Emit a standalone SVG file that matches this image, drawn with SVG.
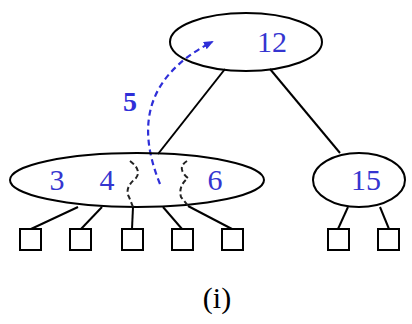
<svg xmlns="http://www.w3.org/2000/svg" width="412" height="324" viewBox="0 0 412 324">
<style>
.n{fill:none;stroke:#000;stroke-width:2}
.e{stroke:#000;stroke-width:2;fill:none}
.b{fill:none;stroke:#000;stroke-width:2}
.t{font-family:"Liberation Serif",serif;font-size:30px;fill:#3535d0;text-anchor:middle}
.w{fill:none;stroke:#222;stroke-width:2;stroke-dasharray:5,3}
</style>
<defs>
<marker id="ah" markerWidth="10" markerHeight="8" refX="8" refY="4" orient="auto" markerUnits="userSpaceOnUse">
<path d="M0,0 L10,4 L0,8 z" fill="#2f2fd8"/>
</marker>
</defs>
<rect width="412" height="324" fill="#fff"/>
<g id="connectors">
<line class="e" x1="225" y1="69" x2="158" y2="154"/>
<line class="e" x1="270" y1="69" x2="340" y2="153"/>
<line class="e" x1="78" y1="207" x2="31" y2="229"/>
<line class="e" x1="102" y1="207" x2="81" y2="229"/>
<line class="e" x1="133" y1="207" x2="132" y2="229"/>
<line class="e" x1="163" y1="207" x2="182" y2="229"/>
<line class="e" x1="188" y1="206" x2="232" y2="229"/>
<line class="e" x1="348" y1="207" x2="338" y2="229"/>
<line class="e" x1="380" y1="207" x2="389" y2="229"/>
<path d="M160,184 C140,135 138,80 212,42" fill="none" stroke="#2f2fd8" stroke-width="2.2" stroke-dasharray="6,4" marker-end="url(#ah)"/>
</g>
<g id="n12">
<ellipse class="n" cx="246" cy="42" rx="76" ry="29"/>
<text class="t" x="272" y="52">12</text>
</g>
<g id="n3_4_6">
<ellipse class="n" cx="137" cy="180" rx="127" ry="27"/>
<text class="t" x="57" y="190">3</text>
<text class="t" x="107" y="190">4</text>
<text class="t" x="215" y="190">6</text>
<path class="w" d="M130,161 Q142,170 136,178 Q124,188 129,197 L133,207"/>
<path class="w" d="M187,161 Q176,168 188,178 Q178,186 181,197 L189,207"/>
</g>
<g id="n15">
<ellipse class="n" cx="359" cy="180" rx="46" ry="27"/>
<text class="t" x="366" y="190">15</text>
</g>
<g id="leaves">
<rect class="b" x="20" y="229" width="21" height="21"/>
<rect class="b" x="70" y="229" width="21" height="21"/>
<rect class="b" x="122" y="229" width="21" height="21"/>
<rect class="b" x="172" y="229" width="21" height="21"/>
<rect class="b" x="222" y="229" width="21" height="21"/>
<rect class="b" x="328" y="229" width="21" height="21"/>
<rect class="b" x="378" y="229" width="21" height="21"/>
</g>
<text x="130" y="111" font-family="Liberation Serif,serif" font-size="28" font-weight="bold" fill="#2f2fd8" text-anchor="middle">5</text>
<text x="217" y="308" font-family="Liberation Serif,serif" font-size="30" fill="#000" text-anchor="middle">(i)</text>
</svg>
